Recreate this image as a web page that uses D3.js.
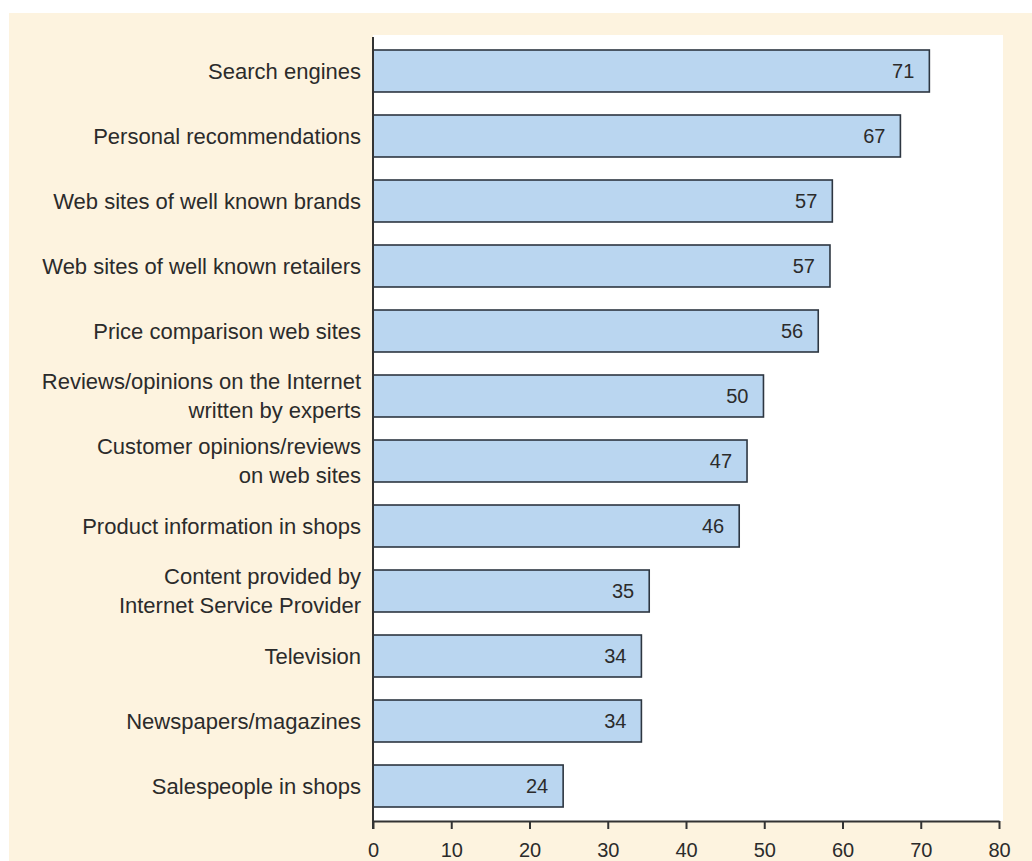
<!DOCTYPE html>
<html>
<head>
<meta charset="utf-8">
<script src="https://cdn.jsdelivr.net/npm/d3@7.9.0/dist/d3.min.js"></script>
<style>
  body { margin: 0; background: #fff; }
  svg { display: block; font-family: "Liberation Sans", Arial, sans-serif; }
</style>
</head>
<body>
<div id="chart"></div>
<script>
// categories top to bottom, long ones split into lines
const categories = [
  ['Search engines'],
  ['Personal recommendations'],
  ['Web sites of well known brands'],
  ['Web sites of well known retailers'],
  ['Price comparison web sites'],
  ['Reviews/opinions on the Internet', 'written by experts'],
  ['Customer opinions/reviews', 'on web sites'],
  ['Product information in shops'],
  ['Content provided by', 'Internet Service Provider'],
  ['Television'],
  ['Newspapers/magazines'],
  ['Salespeople in shops']
];
// bar lengths as drawn in the picture
const barValues = [71.1, 67.4, 58.7, 58.4, 56.9, 49.9, 47.8, 46.8, 35.3, 34.3, 34.3, 24.3];
// numbers printed on the bars
const valueLabels = [71, 67, 57, 57, 56, 50, 47, 46, 35, 34, 34, 24];
const xTicks = [0, 10, 20, 30, 40, 50, 60, 70, 80];

const width = 1032;
const height = 861;
const textColor = '#2b2b2b';

const svg = d3.select('#chart')
  .append('svg')
  .attr('width', width)
  .attr('height', height);

// cream panel + white plot area
svg.append('rect')
  .attr('x', 9).attr('y', 13)
  .attr('width', width - 9).attr('height', height - 13)
  .attr('fill', '#fdf3df');

const x = d3.scaleLinear().domain([0, 80]).range([373, 999]);
const y = d3.scaleBand()
  .domain(d3.range(categories.length))
  .range([50, 807])
  .paddingInner(0.354)
  .paddingOuter(0);

const axisY = 821;

svg.append('rect')
  .attr('x', x(0)).attr('y', 35)
  .attr('width', 1003 - x(0)).attr('height', axisY - 35)
  .attr('fill', '#ffffff');

// bars
svg.append('g')
  .selectAll('rect')
  .data(barValues)
  .join('rect')
  .attr('x', x(0))
  .attr('y', (d, i) => y(i))
  .attr('width', (d) => x(d) - x(0))
  .attr('height', y.bandwidth())
  .attr('fill', '#bad6f0')
  .attr('stroke', '#2d3641')
  .attr('stroke-width', 1.6);

// value labels inside bar ends
svg.append('g')
  .selectAll('text')
  .data(valueLabels)
  .join('text')
  .attr('x', (d, i) => x(barValues[i]) - 15)
  .attr('y', (d, i) => y(i) + y.bandwidth() / 2)
  .attr('dy', '0.36em')
  .attr('text-anchor', 'end')
  .attr('font-size', 20)
  .attr('fill', textColor)
  .text((d) => d);

// category labels
const lineGap = 29;
const labels = svg.append('g')
  .selectAll('text')
  .data(categories)
  .join('text')
  .attr('text-anchor', 'end')
  .attr('font-size', 22)
  .attr('fill', textColor);

labels.each(function (lines, i) {
  const cy = y(i) + y.bandwidth() / 2;
  const t = d3.select(this);
  lines.forEach((line, j) => {
    t.append('tspan')
      .attr('x', 361)
      .attr('y', cy + (j - (lines.length - 1) / 2) * lineGap)
      .attr('dy', '0.36em')
      .text(line);
  });
});

// x axis
const xAxis = svg.append('g')
  .attr('transform', `translate(0,${axisY})`)
  .call(d3.axisBottom(x).tickValues(xTicks).tickSize(8).tickPadding(14).tickSizeOuter(0));

xAxis.select('.domain').attr('stroke', '#333').attr('stroke-width', 2);
xAxis.selectAll('.tick line').attr('stroke', '#333').attr('stroke-width', 2);
xAxis.selectAll('.tick text')
  .attr('font-size', 20)
  .attr('font-family', '"Liberation Sans", Arial, sans-serif')
  .attr('fill', textColor);

// vertical axis line
svg.append('line')
  .attr('x1', x(0)).attr('x2', x(0))
  .attr('y1', 37).attr('y2', axisY + 8)
  .attr('stroke', '#333')
  .attr('stroke-width', 2);
</script>
</body>
</html>
